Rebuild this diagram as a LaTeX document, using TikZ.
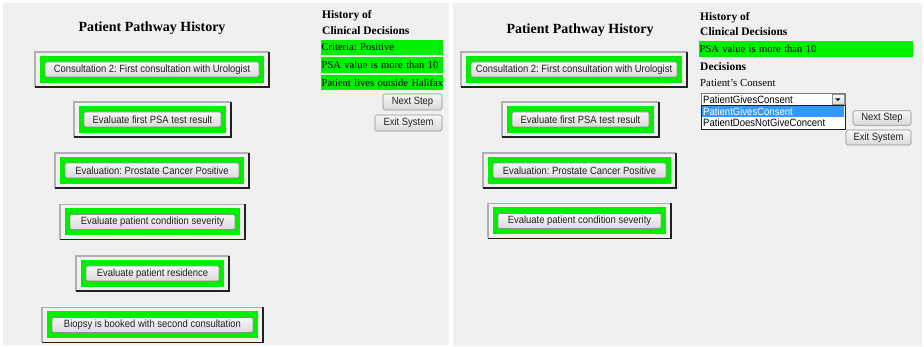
\documentclass[tikz,border=0pt]{standalone}
\usepackage{fontspec}
\usetikzlibrary{calc}
\setmainfont{Liberation Serif}
\newfontfamily\uifont[FakeStretch=0.9]{Liberation Sans}
\frenchspacing

\definecolor{panelgray}{HTML}{F0F0F0}
\definecolor{stepgreen}{HTML}{00EE00}
\definecolor{btnedge}{HTML}{8E8F8F}
\definecolor{btntop}{HTML}{F7F7F7}
\definecolor{btnbot}{HTML}{DADADA}
\definecolor{btntext}{HTML}{222222}
\definecolor{framelight}{HTML}{B0B0B0}
\definecolor{framedark}{HTML}{222222}
\definecolor{selblue}{HTML}{3399FF}
\definecolor{comboedge}{HTML}{7A7A7A}

% One pathway step: raised frame, green band, push button in the middle.
% #1 node name, #2 centre x, #3 centre y, #4 button width, #5 label
\newcommand\pathstep[5]{%
  \fill[panelgray] ({#2-#4/2-10},{#3-17.5}) rectangle ({#2+#4/2+10},{#3+17.5});
  \draw[framelight, line width=1.2pt]
    ({#2-#4/2-10},{#3+17.5}) -- ({#2-#4/2-10},{#3-17.5}) -- ({#2+#4/2+10},{#3-17.5});
  \draw[framedark, line width=1.6pt]
    ({#2+#4/2+10},{#3-17.5}) -- ({#2+#4/2+10},{#3+17.5}) -- ({#2-#4/2-10},{#3+17.5});
  \fill[stepgreen] ({#2-#4/2-5},{#3-13.5}) rectangle ({#2+#4/2+5},{#3+13.5});
  \node[btn, minimum width=#4pt] (#1) at (#2,#3) {#5};
}

\begin{document}
\begin{tikzpicture}[x=1pt, y=-1pt,
  btn/.style={draw=btnedge, rounded corners=1.5pt, top color=btntop,
    bottom color=btnbot, text=btntext, line width=0.6pt,
    font=\uifont\fontsize{10.5}{12}\selectfont,
    minimum height=15pt, inner sep=0pt},
  heading/.style={anchor=west, inner sep=0pt,
    font=\bfseries\fontsize{11.5}{13}\selectfont},
  title/.style={inner sep=0pt, font=\bfseries\fontsize{14}{16}\selectfont},
  plain/.style={anchor=west, inner sep=0pt, font=\fontsize{10.8}{12}\selectfont},
  decbar/.style={fill=stepgreen, anchor=west, align=left, inner xsep=0.5pt,
    inner ysep=0pt, minimum height=15.5pt, font=\fontsize{10.5}{12}\selectfont},
  uitext/.style={anchor=west, inner sep=0pt, font=\uifont\fontsize{10.6}{12}\selectfont}
]
\useasboundingbox (0,0) rectangle (924,347);
\fill[white] (0,0) rectangle (924,347);

% ---------- left window ----------
\fill[panelgray] (3,3) rectangle (449,345);
\node[title] (ltitle) at (152,28) {Patient Pathway History};

\pathstep{ls1}{152}{69.5}{214}{Consultation 2: First consultation with Urologist}
\pathstep{ls2}{152.5}{119.5}{137}{Evaluate first PSA test result}
\pathstep{ls3}{152}{170.5}{174}{Evaluation: Prostate Cancer Positive}
\pathstep{ls4}{152.5}{222}{165}{Evaluate patient condition severity}
\pathstep{ls5}{152.5}{273.5}{133}{Evaluate patient residence}
\pathstep{ls6}{152.5}{325}{201}{Biopsy is booked with second consultation}

\node[heading] (lhist) at (322,16) {History of};
\node[heading] (lclin) at (322,31) {Clinical Decisions};
\node[decbar, text width=121pt] (ld1) at (321,47.5) {\mbox{Criteria: Positive}};
\node[decbar, text width=121pt] (ld2) at (321,65) {\mbox{PSA value is more than 10}};
\node[decbar, text width=121pt] (ld3) at (321,82.5) {\mbox{Patient lives outside Halifax}};
\node[btn, minimum width=59pt, minimum height=16pt] (lnext) at (412.5,102) {Next Step};
\node[btn, minimum width=67pt, minimum height=16pt] (lexit) at (408.5,123) {Exit System};

% ---------- right window ----------
\fill[panelgray] (453,3) rectangle (922,346);
\node[title] (rtitle) at (580,30) {Patient Pathway History};

\pathstep{rs1}{574}{69.5}{206}{Consultation 2: First consultation with Urologist}
\pathstep{rs2}{580.5}{119.5}{137}{Evaluate first PSA test result}
\pathstep{rs3}{579.5}{170.5}{173}{Evaluation: Prostate Cancer Positive}
\pathstep{rs4}{579.5}{221}{163}{Evaluate patient condition severity}

\node[heading] (rhist) at (700,18) {History of};
\node[heading] (rclin) at (700,32) {Clinical Decisions};
\node[decbar, text width=213pt] (rd1) at (699,49) {\mbox{PSA value is more than 10}};
\node[heading] (rdec) at (700,67) {Decisions};
\node[plain] (rcons) at (700,83) {Patient's Consent};

% combo box with its open list
\node[draw=comboedge, fill=white, line width=0.6pt, anchor=north west,
  minimum width=144pt, minimum height=11.5pt, inner sep=0pt] (combo) at (701,93.5) {};
\node[uitext] (combotext) at (703,99.3) {PatientGivesConsent};
\node[draw=btnedge, top color=btntop, bottom color=btnbot, line width=0.4pt,
  anchor=north east, minimum width=12pt, minimum height=9.5pt, inner sep=0pt]
  (comboarrow) at (844,94.5) {};
\fill[black] ($(comboarrow.center)+(-2.5,-1)$) -- ++(5,0) -- ++(-2.5,2.5) -- cycle;

\node[draw=framedark, fill=white, line width=0.6pt, anchor=north west,
  minimum width=144pt, minimum height=24pt, inner sep=0pt] (optlist) at (701,105) {};
\node[fill=selblue, anchor=north west, minimum width=142pt, minimum height=11pt,
  inner sep=0pt] (optsel) at (702,106) {};
\node[uitext, text=white] (opt1) at (703,111.5) {PatientGivesConsent};
\node[uitext] (opt2) at (703,123) {PatientDoesNotGiveConcent};

\node[btn, minimum width=58pt, minimum height=14.5pt] (rnext) at (882,118) {Next Step};
\node[btn, minimum width=65pt, minimum height=15pt] (rexit) at (878.5,137.5) {Exit System};
\end{tikzpicture}
\end{document}
